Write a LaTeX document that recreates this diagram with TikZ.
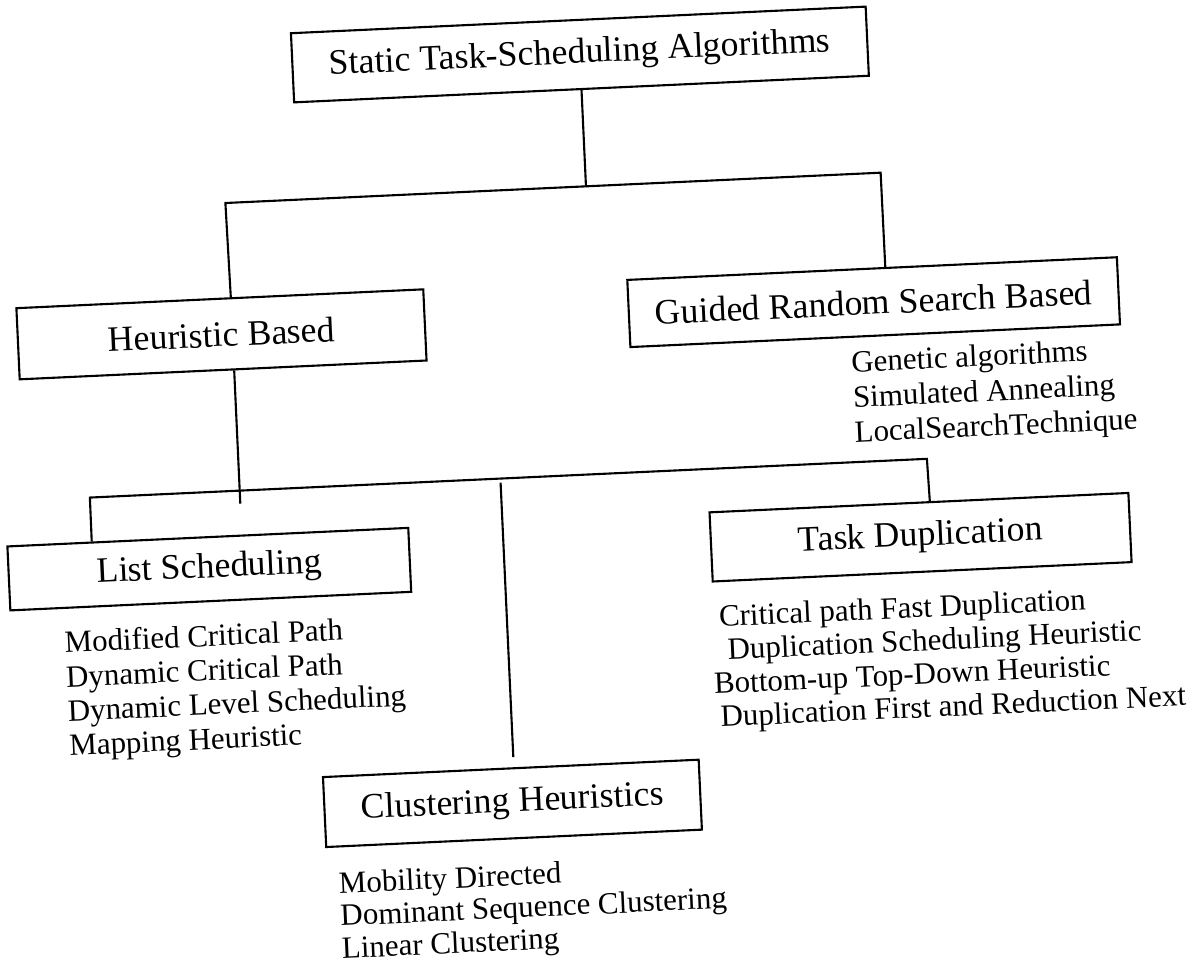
\documentclass[tikz,border=0pt]{standalone}
\usepackage{fontspec}
\setmainfont{Liberation Serif}
\usetikzlibrary{calc}

\begin{document}
\begin{tikzpicture}[x=0.025cm, y=-0.025cm, line width=1.5pt,
  box/.style={draw, inner sep=0pt, font=\fontsize{25.4}{30}\selectfont},
  item/.style={anchor=base west, inner sep=0pt, font=\fontsize{22}{26}\selectfont}]
  \useasboundingbox[fill=white] (0,0) rectangle (1199,978);
  % the scanned page is slightly tilted
  \begin{scope}[rotate around={2.65:(600,489)}, transform shape]
  \node[box, minimum width=14.38cm, minimum height=1.73cm] (stat) at (600,54) {Static Task-Scheduling Algorithms};
  \node[box, minimum width=10.18cm, minimum height=1.78cm] (heur) at (229,317) {Heuristic Based};
  \node[box, minimum width=12.25cm, minimum height=1.68cm] (guid) at (882,315) {Guided Random Search Based};
  \node[box, minimum width=10.03cm, minimum height=1.6cm] (list) at (206,551) {List Scheduling};
  \node[box, minimum width=10.48cm, minimum height=1.73cm] (dupl) at (918,552) {Task Duplication};
  \node[box, minimum width=9.4cm, minimum height=1.75cm] (clus) at (498,799) {Clustering Heuristics};

  \coordinate (top) at (600,186);
  \coordinate (topl) at (239,186);
  \coordinate (topr) at (895,186);
  \coordinate (midl) at (90,474);
  \coordinate (midr) at (928,474);
  \coordinate (midend) at (240,487);
  \coordinate (clustop) at (501,478);

  \draw (stat.south) -- (top);
  \draw ($(heur.north west)!0.527!(heur.north east)$) -- (topl) -- (topr) -- ($(guid.north west)!0.527!(guid.north east)$);
  \draw ($(heur.south west)!0.527!(heur.south east)$) -- (midend);
  \draw ($(list.north west)!0.212!(list.north east)$) -- (midl) -- (midr) -- ($(dupl.north west)!0.526!(dupl.north east)$);
  \draw[shorten >=0.25cm] (clustop) -- ($(clus.north west)!0.508!(clus.north east)$);

  \foreach \t [count=\i] in {Genetic algorithms, Simulated Annealing, LocalSearchTechnique}
    \node[item] (ga\i) at (856,{384+35*(\i-1)}) {\t};
  \foreach \t [count=\i] in {Modified Critical Path, Dynamic Critical Path, Dynamic Level Scheduling, Mapping Heuristic}
    \node[item] (ls\i) at (57,{628+34.3*(\i-1)}) {\t};
  \foreach \off/\t [count=\i] in {8/Critical path Fast Duplication, 15/Duplication Scheduling Heuristic, 0/Bottom-up Top-Down Heuristic, 5/Duplication First and Reduction Next}
    \node[item] (td\i) at ({704+\off},{632+33.4*(\i-1)}) {\t};
  \foreach \t [count=\i] in {Mobility Directed, Dominant Sequence Clustering, Linear Clustering}
    \node[item] (ch\i) at (320,{881+32.5*(\i-1)}) {\t};
  \end{scope}
\end{tikzpicture}
\end{document}
